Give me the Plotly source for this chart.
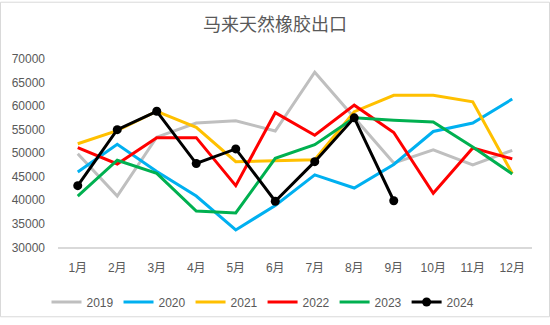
import plotly.graph_objects as go

months = ["1月", "2月", "3月", "4月", "5月", "6月", "7月", "8月", "9月", "10月", "11月", "12月"]

y2019 = [49900, 40900, 53400, 56400, 56900, 54700, 67200, 57600, 47900, 50700, 47500, 50600]
y2020 = [46000, 51900, 46100, 40900, 33700, 38900, 45400, 42600, 47600, 54600, 56400, 61500]
y2021 = [52000, 54800, 58900, 55500, 48200, 48400, 48600, 58800, 62300, 62300, 60900, 45700]
y2022 = [51200, 47700, 53300, 53300, 43100, 58600, 53800, 60200, 54400, 41500, 51100, 48800]
y2023 = [40900, 48500, 45700, 37700, 37300, 48900, 51800, 57500, 57000, 56600, 51300, 45600]
y2024 = [43100, 55000, 58900, 47800, 50900, 39800, 48200, 57500, 39900]

series = [
    ("2019", y2019, "#BFBFBF"),
    ("2020", y2020, "#00B0F0"),
    ("2021", y2021, "#FFC000"),
    ("2022", y2022, "#FF0000"),
    ("2023", y2023, "#00B050"),
]

fig = go.Figure()
for name, vals, color in series:
    fig.add_trace(go.Scatter(x=months[:len(vals)], y=vals, name=name, mode="lines",
                             line=dict(color=color, width=3)))
fig.add_trace(go.Scatter(x=months[:len(y2024)], y=y2024, name="2024", mode="lines+markers",
                         line=dict(color="#000000", width=3),
                         marker=dict(color="#000000", size=9)))

font_family = "Liberation Sans, Noto Sans CJK SC, sans-serif"
grey = "#595959"

fig.update_layout(
    width=550, height=325,
    margin=dict(l=58, r=18, t=59, b=72),
    paper_bgcolor="white", plot_bgcolor="white",
    font=dict(family=font_family, size=12, color=grey),
    title=dict(text="马来天然橡胶出口", x=0.5, xanchor="center", xref="container",
               y=1 - 25 / 325, yanchor="middle", yref="container",
               font=dict(family="Noto Sans CJK SC, sans-serif", size=18, color=grey)),
    showlegend=True,
    legend=dict(orientation="h", xref="container", yref="container",
                x=263 / 550, xanchor="center", y=1 - 302 / 325, yanchor="middle",
                font=dict(size=12, color=grey), bgcolor="rgba(0,0,0,0)",
                tracegroupgap=0),
    xaxis=dict(type="category", range=[-0.5, 11.5], showgrid=False, zeroline=False,
               showline=True, linecolor="#D9D9D9", linewidth=1.5, ticks="",
               ticklabelstandoff=9,
               tickfont=dict(family=font_family, size=12, color=grey)),
    yaxis=dict(range=[30000, 70000], dtick=5000, tickformat="d", showgrid=False,
               zeroline=False, showline=False, ticks="", ticklabelstandoff=12,
               tickfont=dict(family=font_family, size=12, color=grey)),
    shapes=[dict(type="rect", xref="paper", yref="paper",
                 x0=-57.5 / 474, x1=1 + 17.5 / 474, y0=-71.5 / 194, y1=1 + 58.5 / 194,
                 line=dict(color="#D9D9D9", width=1), layer="below")],
)

fig.write_html("out.html")
